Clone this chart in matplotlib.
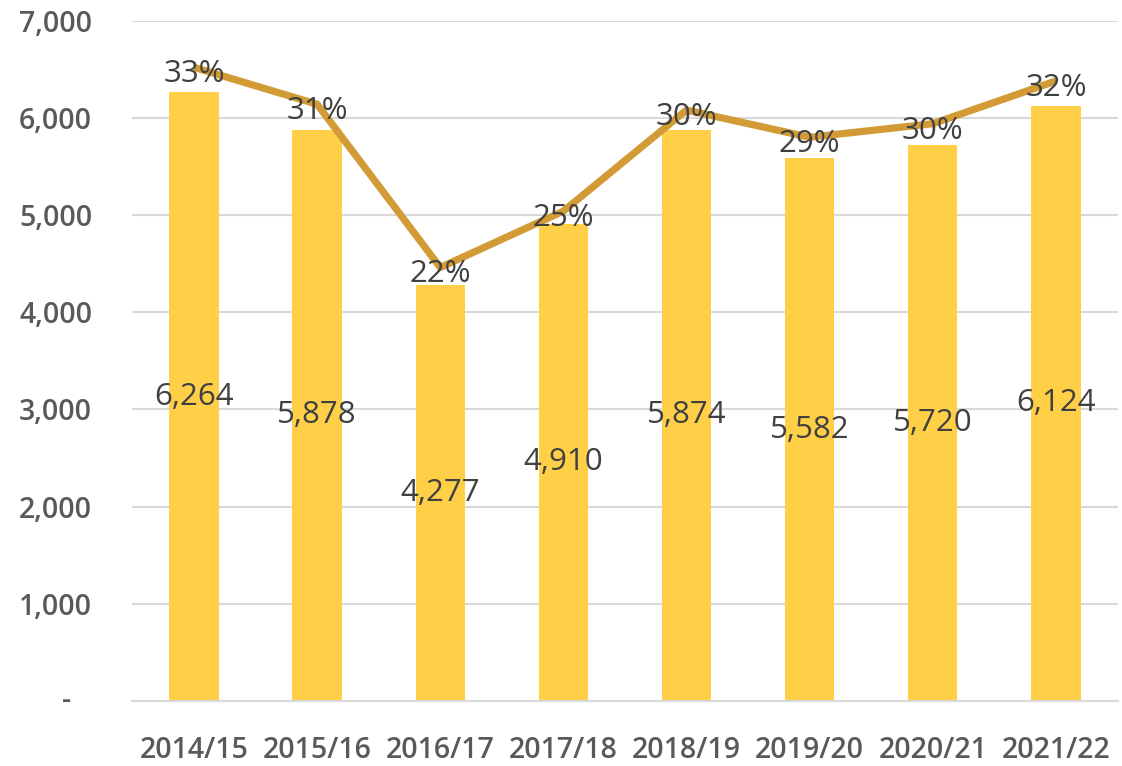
import numpy as np
import matplotlib
matplotlib.use("Agg")
import matplotlib.pyplot as plt
import matplotlib.transforms as mtransforms

plt.rcParams['font.family'] = ['Open Sans', 'DejaVu Sans']

years = ['2014/15', '2015/16', '2016/17', '2017/18', '2018/19', '2019/20', '2020/21', '2021/22']
counts = [6264, 5878, 4277, 4910, 5874, 5582, 5720, 6124]
shares = [0.326, 0.307, 0.223, 0.252, 0.304, 0.290, 0.297, 0.319]

bar_color = '#FFD047'
line_color = '#D39B35'
label_color = '#404040'
tick_color = '#595959'
grid_color = '#D9D9D9'

fig = plt.figure(figsize=(11.22, 7.66), dpi=100)
ax = fig.add_axes([0.118, 0.085, 0.878, 0.888])
x = np.arange(len(years))

ax.bar(x, counts, width=0.4, color=bar_color, zorder=2)
for xi, c in zip(x, counts):
    ax.text(xi, c / 2, f'{c:,}', ha='center', va='center', fontsize=22.5,
            color=label_color, zorder=5)

ax.set_xlim(-0.5, 7.5)
ax.set_ylim(0, 7000)
ax.set_yticks(np.arange(0, 7001, 1000))
ax.set_yticklabels(['' if v == 0 else f'{v:,}' for v in range(0, 7001, 1000)])
ax.set_xticks(x)
ax.set_xticklabels(years)
ax.tick_params(axis='y', length=0, pad=29, labelsize=20.5, labelcolor=tick_color)
ax.tick_params(axis='x', length=0, pad=25, labelsize=20.5, labelcolor=tick_color)
for lab in ax.get_xticklabels() + ax.get_yticklabels():
    lab.set_fontweight('semibold')
ax.grid(axis='y', color=grid_color, linewidth=1.5, zorder=0)
ax.set_axisbelow(True)
for s in ['top', 'right', 'left']:
    ax.spines[s].set_visible(False)
ax.spines['bottom'].set_color(grid_color)
ax.spines['bottom'].set_linewidth(1.5)

# zero label shown as a dash
ax.text(-0.067, 0, '-', transform=mtransforms.blended_transform_factory(ax.transAxes, ax.transData),
        ha='center', va='center', fontsize=20.5, fontweight='semibold', color=tick_color)

ax2 = ax.twinx()
ax2.set_ylim(0, 0.35)
ax2.plot(x, shares, color=line_color, linewidth=5.2, zorder=3, solid_capstyle='butt')
for xi, s in zip(x, shares):
    ax2.annotate(f'{round(s * 100):.0f}%', (xi, s), xytext=(0, -5), textcoords='offset points',
                 ha='center', va='center', fontsize=22.5, color=label_color, zorder=6)
ax2.set_yticks([])
for s in ['top', 'right', 'left', 'bottom']:
    ax2.spines[s].set_visible(False)

fig.savefig('out.png', dpi=100)
